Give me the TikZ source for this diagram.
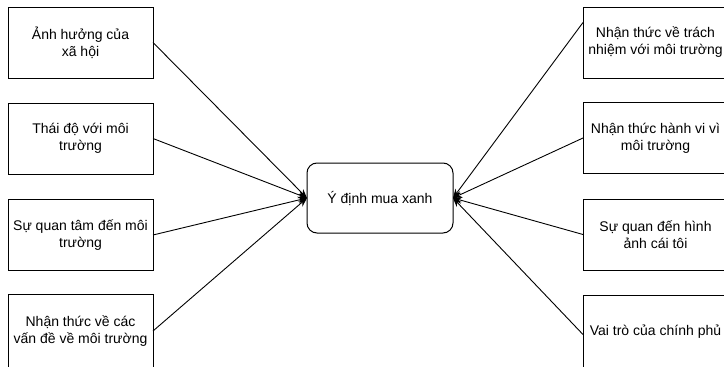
\documentclass[tikz,border=0pt]{standalone}
\usepackage{fontspec}
\setmainfont{Liberation Sans}
\usetikzlibrary{arrows.meta}
\begin{document}
\begin{tikzpicture}[x=1pt,y=-1pt,
  box/.style={draw=black,line width=1pt,rectangle,minimum width=145pt,minimum height=71pt,
    inner sep=0pt,outer sep=0pt,align=center,font=\fontsize{14pt}{17pt}\selectfont},
  centerbox/.style={box,rounded corners=10pt,minimum width=146pt,minimum height=70pt},
  link/.style={draw=black,line width=0.9pt,-{Stealth[length=9pt,width=7pt]}}]
\useasboundingbox (0,0) rectangle (724,367);
\node[centerbox] (c) at (380,198) {Ý định mua xanh};
\node[box] (l1) at (80.5,42.5) {Ảnh hưởng của\\xã hội};
\node[box] (l2) at (80.5,138.5) {Thái độ với môi\\trường};
\node[box] (l3) at (80.5,235) {Sự quan tâm đến môi\\trường};
\node[box,minimum height=74pt] (l4) at (80.5,331) {Nhận thức về các\\vấn đề về môi trường};
\node[box] (r1) at (655.5,42.5) {Nhận thức về trách\\nhiệm với môi trường};
\node[box] (r2) at (655.5,138) {Nhận thức hành vi vì\\môi trường};
\node[box] (r3) at (655.5,234.5) {Sự quan đến hình\\ảnh cái tôi};
\node[box,minimum height=73pt] (r4) at (655.5,331.5) {Vai trò của chính phủ};
\draw[link] (l1.east) -- (c.west);
\draw[link] (l2.east) -- (c.west);
\draw[link] (l3.east) -- (c.west);
\draw[link] (l4.east) -- (c.west);
\draw[link] ([yshift=20pt]r1.west) -- (c.east);
\draw[link] (r2.west) -- (c.east);
\draw[link] (r3.west) -- (c.east);
\draw[link] ([yshift=-3pt]r4.west) -- (c.east);
\end{tikzpicture}
\end{document}
